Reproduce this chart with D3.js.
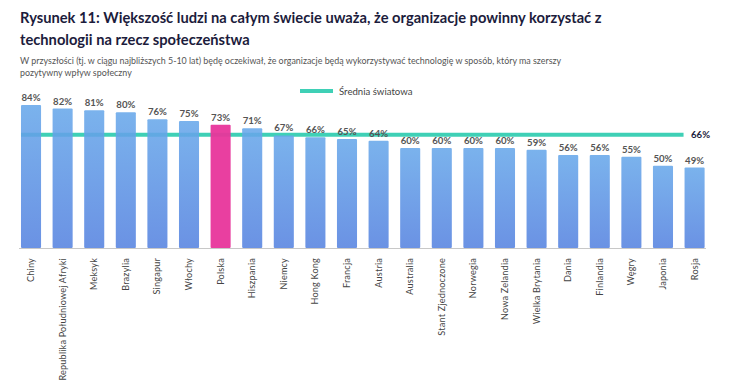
<!DOCTYPE html>
<html><head><meta charset="utf-8">
<script src="https://cdn.jsdelivr.net/npm/d3@7"></script>
<style>body{margin:0;background:#fff}svg{display:block}</style>
</head><body>
<svg id="c" width="740" height="384"></svg>
<script>
const categories = ["Chiny","Republika Południowej Afryki","Meksyk","Brazylia","Singapur","Włochy","Polska","Hiszpania","Niemcy","Hong Kong","Francja","Austria","Australia","Stant Zjednoczone","Norwegia","Nowa Zelandia","Wielka Brytania","Dania","Finlandia","Węgry","Japonia","Rosja"];
const values = [84,82,81,80,76,75,73,71,67,66,65,64,60,60,60,60,59,56,56,55,50,49];
const highlight = ["Polska"];
const worldAverage = 66;
const legendLabel = "Średnia światowa";
const titleLines = ["Rysunek 11: Większość ludzi na całym świecie uważa, że organizacje powinny korzystać z","technologii na rzecz społeczeństwa"];
const subtitleLines = ["W przyszłości (tj. w ciągu najbliższych 5-10 lat) będę oczekiwał, że organizacje będą wykorzystywać technologię w sposób, który ma szerszy","pozytywny wpływ społeczny"];

const svg = d3.select("#c");
const font = "Lato, 'Open Sans', sans-serif";

const defs = svg.append("defs");
const g = defs.append("linearGradient").attr("id","barGrad").attr("x1",0).attr("y1",0).attr("x2",0).attr("y2",1);
g.append("stop").attr("offset","0%").attr("stop-color","#68a8ea");
g.append("stop").attr("offset","100%").attr("stop-color","#5683e0");

// Titles
svg.selectAll("text.title").data(titleLines).join("text")
  .attr("x",20).attr("y",(d,i)=>23+i*22)
  .attr("font-family",font).attr("font-weight",700).attr("font-size",14.7)
  .attr("fill","#1c1c3c").text(d=>d);
svg.selectAll("text.sub").data(subtitleLines).join("text")
  .attr("x",20).attr("y",(d,i)=>64+i*12)
  .attr("font-family",font).attr("font-size",8.9)
  .attr("fill","#555").text(d=>d);

const x = d3.scaleBand().domain(categories).range([15.3,710.3]).paddingInner(0.365).paddingOuter(0.18);
const y = d3.scaleLinear().domain([4,84]).range([248,105]);

// baseline
svg.append("line").attr("x1",19).attr("x2",706).attr("y1",y(4)+0.5).attr("y2",y(4)+0.5)
  .attr("stroke","#c8c8c8").attr("stroke-width",1);

// average line (under bars)
svg.append("line")
  .attr("x1",x(categories[0])).attr("x2",x(categories[categories.length-1])-1)
  .attr("y1",y(worldAverage)-2.5).attr("y2",y(worldAverage)-2.5)
  .attr("stroke","#3fd0b6").attr("stroke-width",4);

const data = categories.map((c,i)=>({c,v:values[i]}));
svg.selectAll("rect.bar").data(data).join("rect")
  .attr("x",d=>x(d.c)).attr("width",x.bandwidth())
  .attr("y",d=>y(d.v)).attr("height",d=>y(4)-y(d.v))
  .attr("rx",1)
  .attr("fill",d=>highlight.includes(d.c)?"#e8359b":"url(#barGrad)")
  .attr("fill-opacity",d=>highlight.includes(d.c)?0.95:0.88);

// value labels
svg.selectAll("text.val").data(data).join("text")
  .attr("x",d=>x(d.c)+x.bandwidth()/2).attr("y",d=>y(d.v)-4)
  .attr("text-anchor","middle").attr("font-family",font).attr("font-weight",700)
  .attr("font-size",9.6).attr("fill","#555").text(d=>d.v+"%");

// average label
svg.append("text").attr("x",691).attr("y",y(worldAverage)+1)
  .attr("font-family",font).attr("font-weight",700).attr("font-size",9.6)
  .attr("fill","#1c1c3c").text(worldAverage+"%");

// x labels rotated
svg.selectAll("text.cat").data(categories).join("text")
  .attr("transform",d=>`translate(${x(d)+x.bandwidth()/2+3},258) rotate(-90)`)
  .attr("text-anchor","end").attr("font-family",font).attr("font-size",9.1)
  .attr("letter-spacing",0.2)
  .attr("fill","#444").text(d=>d);

// legend
svg.append("line").attr("x1",300).attr("x2",333).attr("y1",91).attr("y2",91)
  .attr("stroke","#3fd0b6").attr("stroke-width",4);
svg.append("text").attr("x",339).attr("y",94.5).attr("font-family",font)
  .attr("font-size",9.6).attr("fill","#444").text(legendLabel);
</script>
</body></html>
